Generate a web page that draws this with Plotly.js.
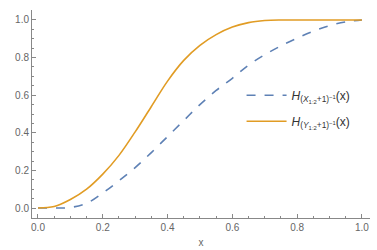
<!DOCTYPE html>
<html>
<head>
<meta charset="utf-8">
<script src="https://cdn.plot.ly/plotly-3.0.1.min.js"></script>
<style>html,body{margin:0;padding:0;background:#fff;}#chart{width:377px;height:250px;}</style>
</head>
<body>
<div id="chart"></div>
<script>
const xVals = [0,0.05,0.1,0.15,0.2,0.25,0.3,0.35,0.4,0.45,0.5,0.55,0.6,0.65,0.7,0.75,0.8,0.85,0.9,0.95,1.0];
const blueY = [0,0,0.003,0.025,0.08,0.145,0.215,0.295,0.38,0.465,0.55,0.625,0.69,0.76,0.815,0.862,0.903,0.94,0.97,0.99,1.0];
const orangeY = [0,0.008,0.045,0.10,0.18,0.28,0.405,0.54,0.675,0.785,0.865,0.922,0.962,0.986,0.997,1,1,1,1,1,1];
const nameX = "<i>H</i><sub>(<i>X</i><sub>1:2</sub>+1)<sup>−1</sup></sub>(x)";
const nameY = "<i>H</i><sub>(<i>Y</i><sub>1:2</sub>+1)<sup>−1</sup></sub>(x)";
const xTicks = [0,0.2,0.4,0.6,0.8,1.0];
const yTicks = [0,0.2,0.4,0.6,0.8,1.0];

const traces = [
  {x:xVals, y:blueY, name:nameX, legendgroup:'a', mode:'lines', line:{color:'#5E81B5', width:1.6, dash:'dash', shape:'spline', smoothing:1}},
  {x:xVals, y:orangeY, name:nameY, legendgroup:'b', mode:'lines', line:{color:'#E19C24', width:1.6, shape:'spline', smoothing:1}}
];
const tickFont = {family:'Liberation Sans, Arial, sans-serif', size:10, color:'#666'};
const layout = {
  width:377, height:250,
  margin:{l:32, r:7, t:10, b:32},
  paper_bgcolor:'#fff', plot_bgcolor:'#fff',
  showlegend:true,
  legend:{x:0.62, y:0.66, xanchor:'left', yanchor:'top', font:{family:'Liberation Sans, Arial, sans-serif', size:12, color:'#333'}, bgcolor:'rgba(0,0,0,0)', itemwidth:40, tracegroupgap:7},
  xaxis:{range:[-0.0185,1.025], tickvals:xTicks, ticktext:xTicks.map(v=>v.toFixed(1)), showgrid:false, zeroline:false,
    showline:true, linecolor:'#888', linewidth:1, ticks:'inside', ticklen:4, tickcolor:'#888',
    minor:{ticks:'inside', ticklen:2, tickcolor:'#888', dtick:0.05, tick0:0},
    tickfont:tickFont, title:{text:'x', font:{family:'Liberation Sans, Arial, sans-serif', size:10, color:'#666'}, standoff:6}},
  yaxis:{range:[-0.053,1.053], tickvals:yTicks, ticktext:yTicks.map(v=>v.toFixed(1)), showgrid:false, zeroline:false,
    showline:true, linecolor:'#888', linewidth:1, ticks:'inside', ticklen:4, tickcolor:'#888',
    minor:{ticks:'inside', ticklen:2, tickcolor:'#888', dtick:0.05, tick0:0},
    tickfont:tickFont}
};
Plotly.newPlot('chart', traces, layout, {displayModeBar:false, staticPlot:true});
</script>
</body>
</html>
